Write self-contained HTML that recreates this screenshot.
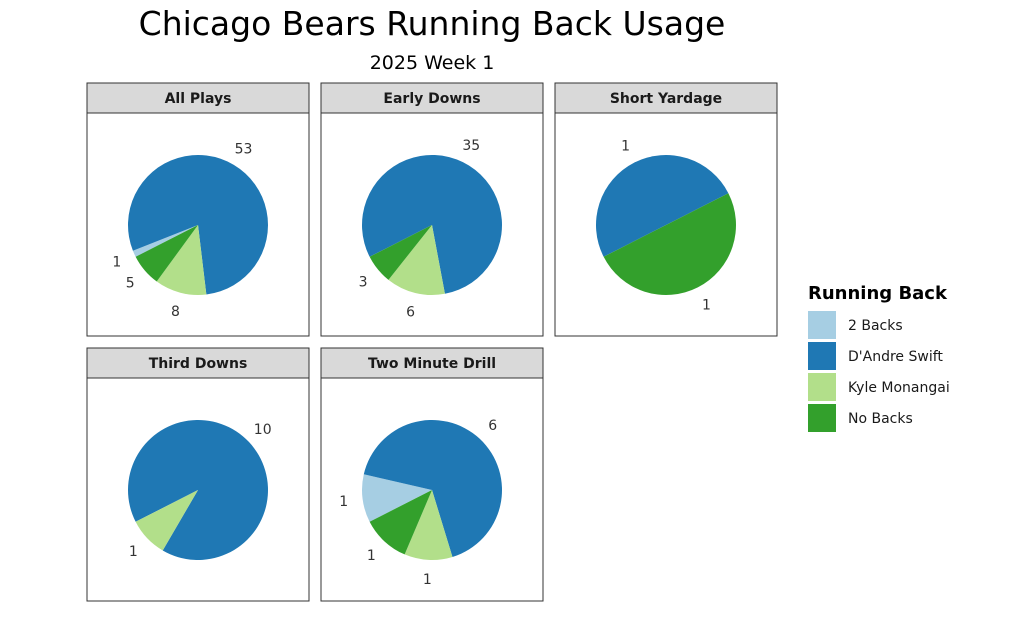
<!DOCTYPE html>
<html><head><meta charset="utf-8"><style>
body{margin:0;background:#fff;}
svg{display:block;font-family:"DejaVu Sans","Liberation Sans",sans-serif;}
</style></head><body>
<svg width="1024" height="640" viewBox="0 0 1024 640">
<text x="432" y="35" text-anchor="middle" font-size="33" fill="#000">Chicago Bears Running Back Usage</text>
<text x="432" y="69" text-anchor="middle" font-size="19" fill="#000">2025 Week 1</text>
<g id="panels"></g>
<g id="legend">
<text x="808" y="299" font-size="18" font-weight="bold" fill="#000">Running Back</text>
</g>
</svg>
<script>
const categories = ["2 Backs","D'Andre Swift","Kyle Monangai","No Backs"];
const colors = ["#a6cee3","#1f78b4","#b2df8a","#33a02c"];
const panelNames = ["All Plays","Early Downs","Short Yardage","Third Downs","Two Minute Drill"];
const allPlays = [1,53,8,5];
const earlyDowns = [0,35,6,3];
const shortYardage = [0,1,0,1];
const thirdDowns = [0,10,1,0];
const twoMinute = [1,6,1,1];
const seriesList = [allPlays,earlyDowns,shortYardage,thirdDowns,twoMinute];

const NS="http://www.w3.org/2000/svg";
const panels=document.getElementById('panels');
const layout=[[87,83],[321,83],[555,83],[87,348],[321,348]];
const W=222,SH=30,BH=223,R=70,START=243;
function pt(cx,cy,r,deg){const a=deg*Math.PI/180;return [cx+r*Math.sin(a),cy-r*Math.cos(a)];}
seriesList.forEach((vals,pi)=>{
  const [x0,y0]=layout[pi];
  const g=document.createElementNS(NS,'g');
  
  
  panels.appendChild(g);
  const strip=document.createElementNS(NS,'rect');
  strip.setAttribute('x',x0);strip.setAttribute('y',y0);strip.setAttribute('width',W);strip.setAttribute('height',SH);
  strip.setAttribute('fill','#d9d9d9');strip.setAttribute('stroke','#333');strip.setAttribute('stroke-width','1');
  
  
  g.appendChild(strip);
  const st=document.createElementNS(NS,'text');
  st.setAttribute('x',x0+W/2);st.setAttribute('y',y0+20);st.setAttribute('text-anchor','middle');
  st.setAttribute('font-size','14');st.setAttribute('font-weight','bold');st.setAttribute('fill','#1a1a1a');
  st.textContent=panelNames[pi];
  
  
  g.appendChild(st);
  const body=document.createElementNS(NS,'rect');
  body.setAttribute('x',x0);body.setAttribute('y',y0+SH);body.setAttribute('width',W);body.setAttribute('height',BH);
  body.setAttribute('fill','#fff');body.setAttribute('stroke','#333');body.setAttribute('stroke-width','1');
  
  
  g.appendChild(body);
  const cx=x0+111,cy=y0+SH+112;
  const total=vals.reduce((a,b)=>a+b,0);
  let ang=START;
  vals.forEach((v,i)=>{
    if(v<=0)return;
    const span=v/total*360;
    const a0=ang,a1=ang+span;ang=a1;
    let el;
    if(span>=359.99){
      el=document.createElementNS(NS,'circle');
      el.setAttribute('cx',cx);el.setAttribute('cy',cy);el.setAttribute('r',R);
    }else{
      const p0=pt(cx,cy,R,a0),p1=pt(cx,cy,R,a1);
      el=document.createElementNS(NS,'path');
      el.setAttribute('d',`M${cx},${cy}L${p0[0]},${p0[1]}A${R},${R} 0 ${span>180?1:0} 1 ${p1[0]},${p1[1]}Z`);
    }
    el.setAttribute('fill',colors[i]);
    
    
    g.appendChild(el);
    const mid=(a0+a1)/2;
    const lp=pt(cx,cy,89,mid);
    const lt=document.createElementNS(NS,'text');
    lt.setAttribute('x',lp[0]);lt.setAttribute('y',lp[1]+5);lt.setAttribute('text-anchor','middle');
    lt.setAttribute('font-size','14');lt.setAttribute('fill','#333');
    lt.textContent=v;
    
    
    g.appendChild(lt);
  });
});
const leg=document.getElementById('legend');
categories.forEach((c,i)=>{
  const y=311+i*31;
  const r=document.createElementNS(NS,'rect');
  r.setAttribute('x',808);r.setAttribute('y',y);r.setAttribute('width',28);r.setAttribute('height',28);
  r.setAttribute('fill',colors[i]);
  
  
  leg.appendChild(r);
  const t=document.createElementNS(NS,'text');
  t.setAttribute('x',848);t.setAttribute('y',y+19);t.setAttribute('font-size','14');t.setAttribute('fill','#1a1a1a');
  t.textContent=c;
  
  
  leg.appendChild(t);
});
</script>
</body></html>
